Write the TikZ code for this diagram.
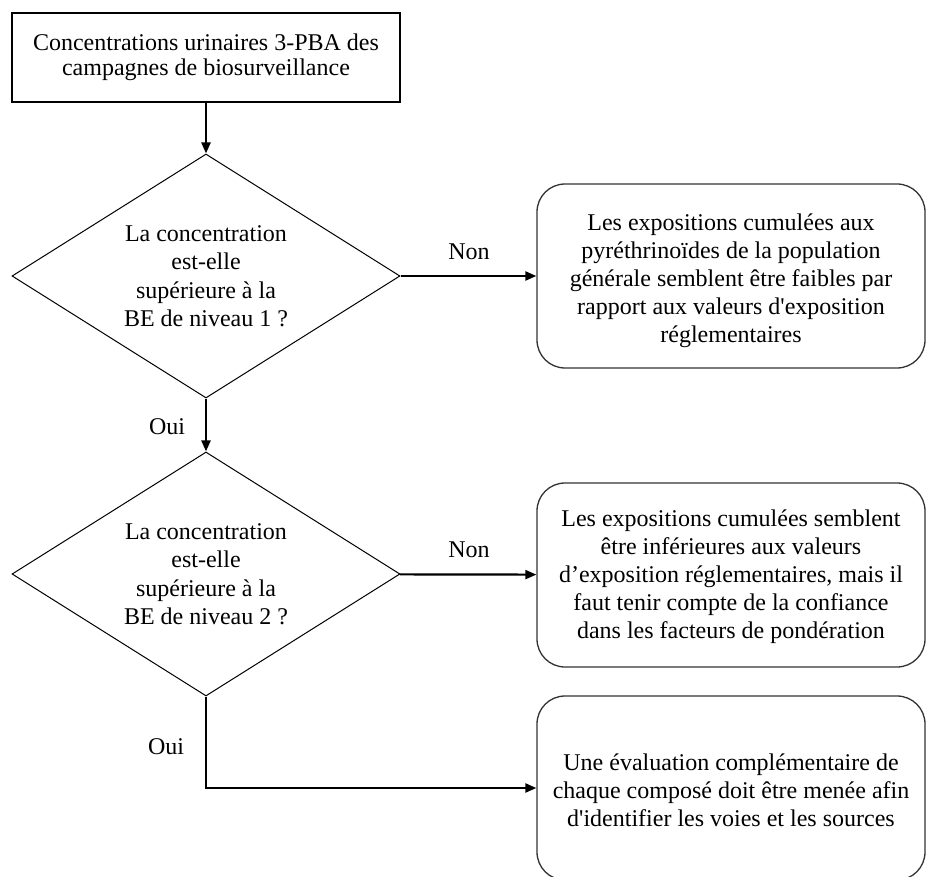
\documentclass[tikz,border=0pt]{standalone}
\usepackage{fontspec}
\setmainfont{Liberation Serif}[Ligatures=TeXOff]
\usetikzlibrary{shapes.geometric,arrows.meta}
\begin{document}
\begin{tikzpicture}[x=1pt,y=-1pt,
  txt/.style={font=\fontsize{24}{28}\selectfont, align=center},
  lbl/.style={font=\fontsize{24}{25.5}\selectfont, inner sep=0pt},
  plainbox/.style={font=\fontsize{24}{25.5}\selectfont, align=center, draw, line width=1.3pt, minimum width=388pt, minimum height=89pt, inner sep=0pt},
  decision/.style={diamond, draw, line width=1pt, aspect=1.59, minimum width=388pt, minimum height=244pt, inner sep=0pt, font=\fontsize{24}{28.5}\selectfont, align=center},
  roundbox/.style={draw=black!80, line width=1.3pt, rounded corners=28pt, minimum width=388pt, minimum height=184pt, inner sep=0pt},
  boxtext/.style={txt, inner sep=0pt},
  conn/.style={line width=2.2pt, -{Triangle[length=11pt,width=9pt]}}
]
\useasboundingbox (0,0) rectangle (926,877);

\node[plainbox] (start) at (206,57.5) {Concentrations urinaires 3-PBA des\\campagnes de biosurveillance};

\node[decision] (q1) at (206,276) {La concentration\\est-elle\\supérieure à la\\BE de niveau 1 ?};

\node[roundbox] (r1) at (731,276) {};
\node[boxtext] (t1) at (731,281) {Les expositions cumulées aux\\pyréthrinoïdes de la population\\générale semblent être faibles par\\rapport aux valeurs d'exposition\\réglementaires};

\node[decision] (q2) at (206,574) {La concentration\\est-elle\\supérieure à la\\BE de niveau 2 ?};

\node[roundbox] (r2) at (731,575) {};
\node[boxtext] (t2) at (731,577) {Les expositions cumulées semblent\\être inférieures aux valeurs\\d’exposition réglementaires, mais il\\faut tenir compte de la confiance\\dans les facteurs de pondération};

\node[roundbox] (r3) at (731,788) {};
\node[boxtext] (t3) at (731,790) {Une évaluation complémentaire de\\chaque composé doit être menée afin\\d'identifier les voies et les sources};

\coordinate (bend) at (q2.south |- r3.west);

\draw[conn] (start) -- (q1);
\draw[conn] (q1) -- (r1);
\draw[conn] (q1) -- (q2);
\draw[conn] (q2) -- (r2);
\draw[conn] (q2.south) -- (bend) -- (r3.west);

\node[lbl] (non1) at (469,252) {Non};
\node[lbl] (oui1) at (167,427) {Oui};
\node[lbl] (non2) at (469,550) {Non};
\node[lbl] (oui2) at (166,747) {Oui};
\end{tikzpicture}
\end{document}
